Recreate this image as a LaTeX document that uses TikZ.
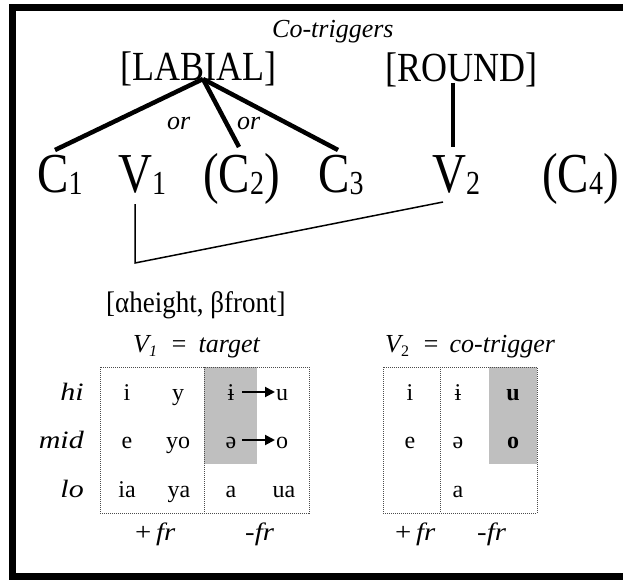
\documentclass[tikz,border=0pt]{standalone}
\usepackage{fontspec}
\setmainfont{Liberation Serif}[
  UprightFont={Liberation Serif},
  ItalicFont={Liberation Serif Italic},
  BoldFont={Liberation Serif Bold},
  BoldItalicFont={Liberation Serif Bold Italic}]
\usepackage{graphicx}
\usetikzlibrary{arrows.meta}

\newcommand\fs[1]{\fontsize{#1}{#1}\selectfont}
\newcommand\tallbox[2]{\scalebox{1}[#1]{#2}}
\newcommand\widebox[2]{\scalebox{#1}[1]{#2}}
\newcommand\subsc[1]{\raisebox{-2pt}{\fs{28}#1}}

\tikzset{
  txt/.style={inner sep=0pt, anchor=base west},
  big/.style={txt, font=\fs{47}},
  feat/.style={txt, font=\fs{36}},
  ital/.style={txt, font=\fs{26}\itshape},
  branch/.style={line width=4.5pt},
  link/.style={line width=1.5pt},
  gridline/.style={draw=black!70, densely dotted, line width=1pt},
  shade/.style={fill=black!25, draw=none},
  cell/.style={inner sep=0pt, anchor=base, font=\fs{24}},
  rowlab/.style={inner sep=0pt, anchor=base east, font=\fs{25}\itshape},
  colhead/.style={txt, font=\fs{26}\itshape},
  frlab/.style={txt, font=\fs{25}\itshape},
  arr/.style={line width=2pt, -{Triangle[length=10pt,width=10pt]}},
  frame/.style={line width=7pt}
}

\begin{document}
\begin{tikzpicture}[x=1pt,y=1pt]
\useasboundingbox (0,0) rectangle (623,-580);
\clip (0,0) rectangle (623,-580);

% outer frame (right side lies outside the picture)
\draw[frame] (650,-8) -- (12.5,-8) -- (12.5,-576.5) -- (650,-576.5);

% title and features
\node[ital] (cotrig) at (272,-38) {Co-triggers};
\node[feat] (labial) at (120,-81) {\tallbox{1.15}{[LABIAL]}};
\node[feat] (round) at (385,-82) {\tallbox{1.15}{[ROUND]}};

% segments
\node[big] (c1) at (37,-192) {\tallbox{1.2}{C\subsc{1}}};
\node[big] (v1) at (118,-192) {\tallbox{1.2}{V\subsc{1}}};
\node[big] (c2) at (203,-192) {\tallbox{1.2}{(C\subsc{2})}};
\node[big] (c3) at (318,-192) {\tallbox{1.2}{C\subsc{3}}};
\node[big] (v2) at (432,-192) {\tallbox{1.2}{V\subsc{2}}};
\node[big] (c4) at (542,-192) {\tallbox{1.2}{(C\subsc{4})}};

\node[ital] (or1) at (167,-130) {or};
\node[ital] (or2) at (237,-130) {or};

% association lines
\coordinate (apex) at (203,-79);
\coordinate (c1top) at (55,-150);
\coordinate (c2top) at (239,-147);
\coordinate (c3top) at (338,-150);
\coordinate (roundbot) at (453,-83);
\coordinate (v2top) at (453,-147);
\draw[branch] (apex) -- (c1top);
\draw[branch] (apex) -- (c2top);
\draw[branch] (apex) -- (c3top);
\draw[branch] (roundbot) -- (v2top);

% V1 -- V2 link
\coordinate (v1bot) at (135,-204);
\coordinate (corner) at (135,-263);
\coordinate (v2bot) at (443,-202);
\draw[link] (v1bot) -- (corner) -- (v2bot);

\node[txt, font=\fs{27}] (featlab) at (106,-312) {\tallbox{1.1}{[αheight, βfront]}};

% ---------- table 1 ----------
\node[colhead] (h1) at (133,-352) {V\raisebox{-4pt}{\fs{16}1}\hspace{13pt}=\hspace{11pt}target};
\fill[shade] (204,-367) rectangle (257,-464);
\draw[gridline] (100,-367) rectangle (309,-513);
\draw[gridline] (204,-367) -- (204,-513);

\node[rowlab] (lhi) at (84,-400) {\widebox{1.2}{hi}};
\node[rowlab] (lmid) at (84,-448) {\widebox{1.2}{mid}};
\node[rowlab] (llo) at (84,-497) {\widebox{1.2}{lo}};

\node[cell] (a11) at (127,-400) {i};
\node[cell] (a12) at (178,-400) {y};
\node[cell] (a13) at (231,-400) {ɨ};
\node[cell] (a14) at (282,-400) {u};
\node[cell] (a21) at (127,-448) {e};
\node[cell] (a22) at (178,-448) {yo};
\node[cell] (a23) at (231,-448) {ə};
\node[cell] (a24) at (282,-448) {o};
\node[cell] (a31) at (127,-497) {ia};
\node[cell] (a32) at (179,-497) {ya};
\node[cell] (a33) at (231,-497) {a};
\node[cell] (a34) at (284,-497) {ua};

\coordinate (ar1s) at (242,-392);
\coordinate (ar1e) at (275,-392);
\coordinate (ar2s) at (242,-440);
\coordinate (ar2e) at (275,-440);
\draw[arr] (ar1s) -- (ar1e);
\draw[arr] (ar2s) -- (ar2e);

\node[frlab] (f1a) at (135,-540) {\widebox{1.15}{{\upshape+}\,fr}};
\node[frlab] (f1b) at (245,-540) {\widebox{1.15}{-fr}};

% ---------- table 2 ----------
\node[colhead] (h2) at (385,-352) {V\raisebox{-4pt}{\fs{16}\upshape 2}\hspace{13pt}=\hspace{10pt}co-trigger};
\fill[shade] (489,-367) rectangle (537,-464);
\draw[gridline] (383,-367) rectangle (537,-513);
\draw[gridline] (440,-367) -- (440,-513);

\node[cell] (b11) at (410,-400) {i};
\node[cell] (b12) at (458,-400) {ɨ};
\node[cell] (b13) at (513,-400) {\bfseries u};
\node[cell] (b21) at (410,-448) {e};
\node[cell] (b22) at (458,-448) {ə};
\node[cell] (b23) at (513,-448) {\bfseries o};
\node[cell] (b32) at (458,-497) {a};

\node[frlab] (f2a) at (395,-540) {\widebox{1.15}{{\upshape+}\,fr}};
\node[frlab] (f2b) at (477,-540) {\widebox{1.15}{-fr}};
\end{tikzpicture}
\end{document}
